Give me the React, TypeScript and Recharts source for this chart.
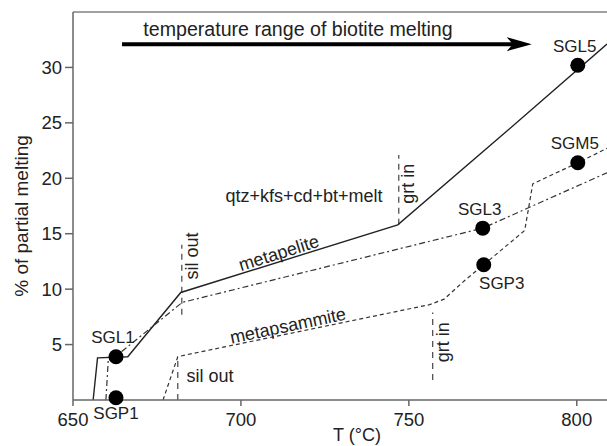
import React from 'react';
import { ComposedChart, Line, Scatter, XAxis, YAxis, ReferenceLine } from 'recharts';

// solid curve (metapelite)
const metapelite = [
  { x: 656, y: 0 },
  { x: 657.3, y: 3.8 },
  { x: 666.3, y: 3.9 },
  { x: 682.1, y: 9.7 },
  { x: 746.7, y: 15.8 },
  { x: 778.6, y: 24.1 },
  { x: 809, y: 32.1 },
];

// dash-dot curve
const dashDot = [
  { x: 659.8, y: 0 },
  { x: 660.5, y: 3.6 },
  { x: 663, y: 4.0 },
  { x: 682.5, y: 8.8 },
  { x: 772, y: 15.5 },
  { x: 809, y: 20.5 },
];

// dashed curve (metapsammite)
const metapsammite = [
  { x: 676.8, y: 0 },
  { x: 681.2, y: 3.9 },
  { x: 683.3, y: 4.05 },
  { x: 756.2, y: 8.6 },
  { x: 760.5, y: 9.1 },
  { x: 766.7, y: 10.8 },
  { x: 772.3, y: 12.2 },
  { x: 784.5, y: 15.3 },
  { x: 786.9, y: 19.5 },
  { x: 800.3, y: 21.4 },
  { x: 809, y: 22.7 },
];

const samples = [
  { x: 662.8, y: 3.9, name: 'SGL1', at: 'above' },
  { x: 662.8, y: 0.2, name: 'SGP1', at: 'below' },
  { x: 772, y: 15.5, name: 'SGL3', at: 'above' },
  { x: 772.3, y: 12.2, name: 'SGP3', at: 'belowRight' },
  { x: 800.3, y: 30.2, name: 'SGL5', at: 'above' },
  { x: 800.3, y: 21.4, name: 'SGM5', at: 'above' },
];

// vertical dashed reaction markers
const markers = [
  { x: 682.4, y1: 7.7, y2: 14.0 },
  { x: 681.2, y1: 0, y2: 3.9 },
  { x: 747, y1: 15.8, y2: 22.1 },
  { x: 757.1, y1: 1.8, y2: 7.9 },
];

const notes = [
  { x: 718.8, y: 18.4, text: 'qtz+kfs+cd+bt+melt', angle: 0 },
  { x: 685.4, y: 13.0, text: 'sil out', angle: -90 },
  { x: 749.7, y: 19.5, text: 'grt in', angle: -90 },
  { x: 711.3, y: 13.25, text: 'metapelite', angle: -17.5 },
  { x: 714, y: 6.7, text: 'metapsammite', angle: -12 },
  { x: 690.8, y: 2.16, text: 'sil out', angle: 0 },
  { x: 760.1, y: 5.2, text: 'grt in', angle: -90 },
];

const title = [{ x: 717, y: 33.5, text: 'temperature range of biotite melting', angle: 0 }];

const arrowShaft = [
  { x: 664.6, y: 32.1 },
  { x: 781, y: 32.1 },
];
const arrowTip = [{ x: 786.6, y: 32.1 }];

const xTicks = [650, 700, 750, 800];
const yTicks = [5, 10, 15, 20, 25, 30];

const ink = '#222';

const labelOffset: Record<string, [number, number]> = {
  above: [-3, -19],
  below: [0, 16],
  belowRight: [18, 19],
};

const SampleDot = (props: any) => {
  const { cx, cy, payload } = props;
  const [dx, dy] = labelOffset[payload.at];
  return (
    <g>
      <circle cx={cx} cy={cy} r={7.5} fill="#000" />
      <text x={cx + dx} y={cy + dy} textAnchor="middle" dominantBaseline="central" fontSize={17} fill={ink}>
        {payload.name}
      </text>
    </g>
  );
};

const makeNote = (size: number) => (props: any) => {
  const { cx, cy, payload } = props;
  return (
    <text
      x={cx}
      y={cy}
      textAnchor="middle"
      dominantBaseline="central"
      fontSize={size}
      fill={ink}
      transform={`rotate(${payload.angle} ${cx} ${cy})`}
    >
      {payload.text}
    </text>
  );
};

const Note = makeNote(18);
const Title = makeNote(19.6);

const ArrowHead = (props: any) => {
  const { cx, cy } = props;
  return <polygon points={`${cx},${cy} ${cx - 25},${cy - 7} ${cx - 19},${cy} ${cx - 25},${cy + 7}`} fill="#000" />;
};

export default function App() {
  return (
    <div style={{ position: 'absolute', left: 0, top: 0, background: '#fff' }}>
      <ComposedChart
        width={607}
        height={446}
        margin={{ top: 12, right: 0, bottom: 0, left: 0 }}
        style={{ fontFamily: '"Liberation Sans", Arial, Helvetica, sans-serif' }}
      >
        <XAxis
          type="number"
          dataKey="x"
          domain={[650, 809]}
          ticks={xTicks}
          height={46}
          tickSize={6}
          tickMargin={7}
          stroke="#666"
          strokeWidth={1.5}
          tick={{ fontSize: 18.5, fill: ink }}
          label={{ value: 'T (°C)', position: 'insideBottom', offset: 5, dx: 17, fontSize: 18, fill: ink }}
        />
        <YAxis
          type="number"
          dataKey="y"
          domain={[0, 35]}
          ticks={yTicks}
          width={73}
          tickSize={8}
          tickMargin={3}
          stroke="#666"
          strokeWidth={1.5}
          tick={{ fontSize: 18.5, fill: ink }}
          label={{ value: '% of partial melting', angle: -90, position: 'center', dx: -15, dy: 10, fontSize: 19, fill: ink }}
        />
        <ReferenceLine y={35} stroke="#444" strokeWidth={1.2} />
        {markers.map((m, i) => (
          <ReferenceLine
            key={i}
            segment={[{ x: m.x, y: m.y1 }, { x: m.x, y: m.y2 }]}
            stroke="#444"
            strokeWidth={1.2}
            strokeDasharray="6 5"
          />
        ))}
        <Line data={metapelite} dataKey="y" type="linear" stroke="#222" strokeWidth={1.4} dot={false} activeDot={false} isAnimationActive={false} />
        <Line data={dashDot} dataKey="y" type="linear" stroke="#333" strokeWidth={1.2} strokeDasharray="6 3 2 3" dot={false} activeDot={false} isAnimationActive={false} />
        <Line data={metapsammite} dataKey="y" type="linear" stroke="#333" strokeWidth={1.2} strokeDasharray="4 3" dot={false} activeDot={false} isAnimationActive={false} />
        <Line data={arrowShaft} dataKey="y" type="linear" stroke="#000" strokeWidth={4} dot={false} activeDot={false} isAnimationActive={false} />
        <Scatter data={arrowTip} dataKey="y" shape={ArrowHead} isAnimationActive={false} />
        <Scatter data={title} dataKey="y" shape={Title} isAnimationActive={false} />
        <Scatter data={notes} dataKey="y" shape={Note} isAnimationActive={false} />
        <Scatter data={samples} dataKey="y" shape={SampleDot} isAnimationActive={false} />
      </ComposedChart>
    </div>
  );
}
